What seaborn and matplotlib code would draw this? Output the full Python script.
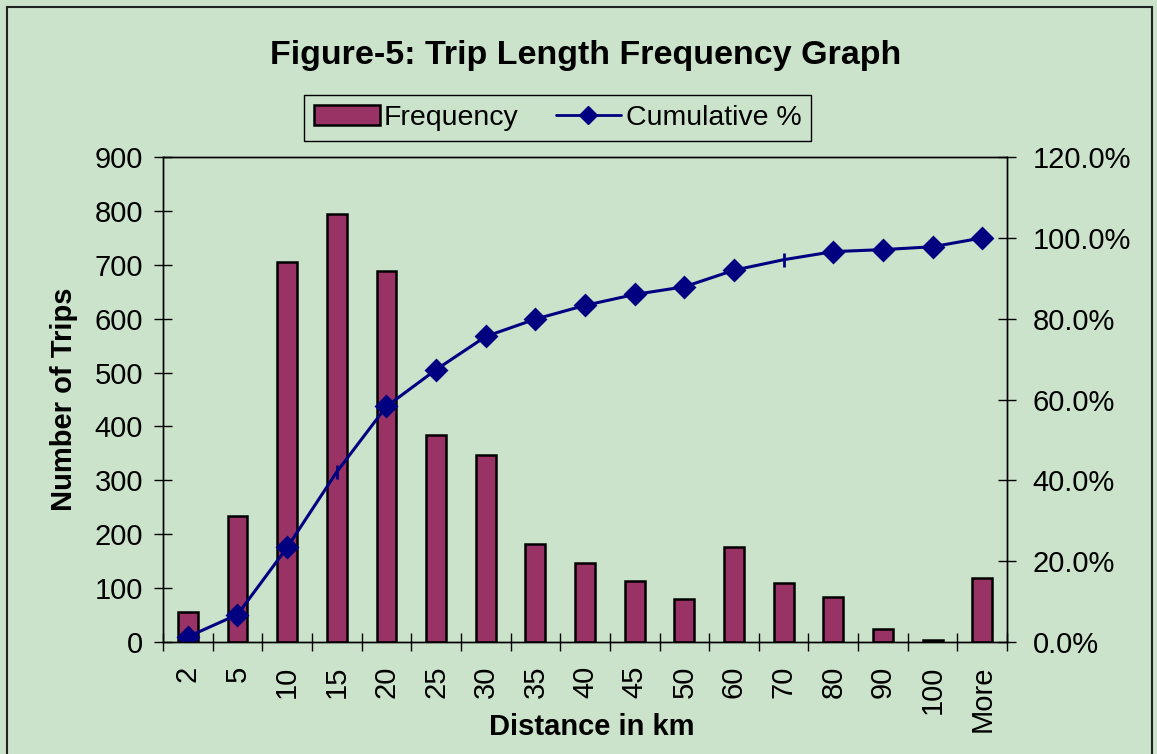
import numpy as np
import pandas as pd
import seaborn as sns
import matplotlib.pyplot as plt
from matplotlib.patches import Patch, Rectangle
from matplotlib.lines import Line2D
from matplotlib.ticker import PercentFormatter, FixedLocator

# valori
distance = ["2", "5", "10", "15", "20", "25", "30", "35", "40", "45",
            "50", "60", "70", "80", "90", "100", "More"]
frequency = [55, 233, 705, 795, 688, 385, 347, 182, 147, 113,
             80, 177, 109, 84, 24, 3, 118]
cumulative = [0.013, 0.068, 0.234, 0.421, 0.583, 0.674, 0.756, 0.799, 0.833, 0.860,
              0.879, 0.920, 0.946, 0.966, 0.971, 0.978, 1.000]
# in the original two points are drawn as a vertical tick instead of a diamond
marker_kind = ["D", "D", "D", "|", "D", "D", "D", "D", "D", "D",
               "D", "D", "|", "D", "D", "D", "D"]

bg = "#CBE2CB"
bar_color = "#993366"
navy = "#000080"

sns.set_style("ticks")
plt.rcParams["font.family"] = ["Liberation Sans", "DejaVu Sans"]
plt.rcParams["text.color"] = "black"
plt.rcParams["axes.labelcolor"] = "black"
plt.rcParams["xtick.color"] = "black"
plt.rcParams["ytick.color"] = "black"

fig = plt.figure(figsize=(11.57, 7.54), dpi=100, facecolor=bg)
ax = fig.add_axes([0.1409, 0.1485, 0.7295, 0.6432])
ax.set_facecolor(bg)

sns.barplot(x=distance, y=frequency, ax=ax, color=bar_color, saturation=1,
            width=0.4, edgecolor="black", linewidth=1.8, zorder=2)

ax2 = ax.twinx()
sns.pointplot(x=distance, y=cumulative, ax=ax2, color=navy, markers="",
              linestyles="-", linewidth=2.2, errorbar=None)
df = pd.DataFrame({"d": distance, "c": cumulative, "m": marker_kind})
sns.pointplot(data=df, x="d", y="c", hue="m", hue_order=["D", "|"],
              palette=[navy, navy], markers=["D", "|"], linestyles="none",
              markersize=10, markeredgewidth=2, errorbar=None, legend=False, ax=ax2)

# left axis
ax.set_ylim(0, 900)
ax.set_yticks(np.arange(0, 901, 100))
ax.set_xlim(-0.5, len(distance) - 0.5)
ax.set_xticks(range(len(distance)))
ax.set_xticklabels(distance, rotation=90)
ax.xaxis.set_minor_locator(FixedLocator(np.arange(-0.5, len(distance), 1)))
ax.tick_params(axis="x", which="major", length=0, labelsize=21, pad=17)
ax.tick_params(axis="x", which="minor", direction="inout", length=13, width=1, color="black")
ax.tick_params(axis="y", direction="inout", length=13, width=1, labelsize=21, pad=8, color="black")

# right axis
ax2.set_ylim(0, 1.2)
ax2.set_yticks(np.arange(0, 1.21, 0.2))
ax2.yaxis.set_major_formatter(PercentFormatter(xmax=1, decimals=1))
ax2.tick_params(axis="y", direction="inout", length=13, width=1, labelsize=21, pad=12, color="black")
ax2.set_ylabel("")
ax2.set_xlabel("")

for a in (ax, ax2):
    for s in a.spines.values():
        s.set_visible(True)
        s.set_color("black")
        s.set_linewidth(1)

ax.set_xlabel("Distance in km", fontsize=21, fontweight="bold")
ax.set_ylabel("Number of Trips", fontsize=21, fontweight="bold")
ax.xaxis.label.set_va("center")
ax.yaxis.label.set_va("center")
ax.xaxis.set_label_coords(0.508, -0.175)
ax.yaxis.set_label_coords(-0.117, 0.5)

fig.text(0.506, 0.927, "Figure-5: Trip Length Frequency Graph", fontsize=24.5,
         fontweight="bold", ha="center", va="center")

handles = [Patch(facecolor=bar_color, edgecolor="black", linewidth=1.8),
           Line2D([], [], color=navy, marker="D", linewidth=2, markersize=9)]
leg = fig.legend(handles, ["Frequency", "Cumulative %"], loc="center",
                 bbox_to_anchor=(0.482, 0.8435), ncol=2, fontsize=20.5,
                 frameon=True, fancybox=False, framealpha=1, edgecolor="black",
                 facecolor=bg, handlelength=2.3, handleheight=0.7,
                 handletextpad=0.15, columnspacing=1.3, borderpad=0.35)
leg.get_frame().set_linewidth(1)

# outer chart border
fig.patches.append(Rectangle((7 / 1157, -0.02), 1145 / 1157, 1 - 7 / 754 + 0.02,
                             transform=fig.transFigure, fill=False,
                             edgecolor="#222222", linewidth=1.5))

fig.savefig("out.png", dpi=100, facecolor=bg)
